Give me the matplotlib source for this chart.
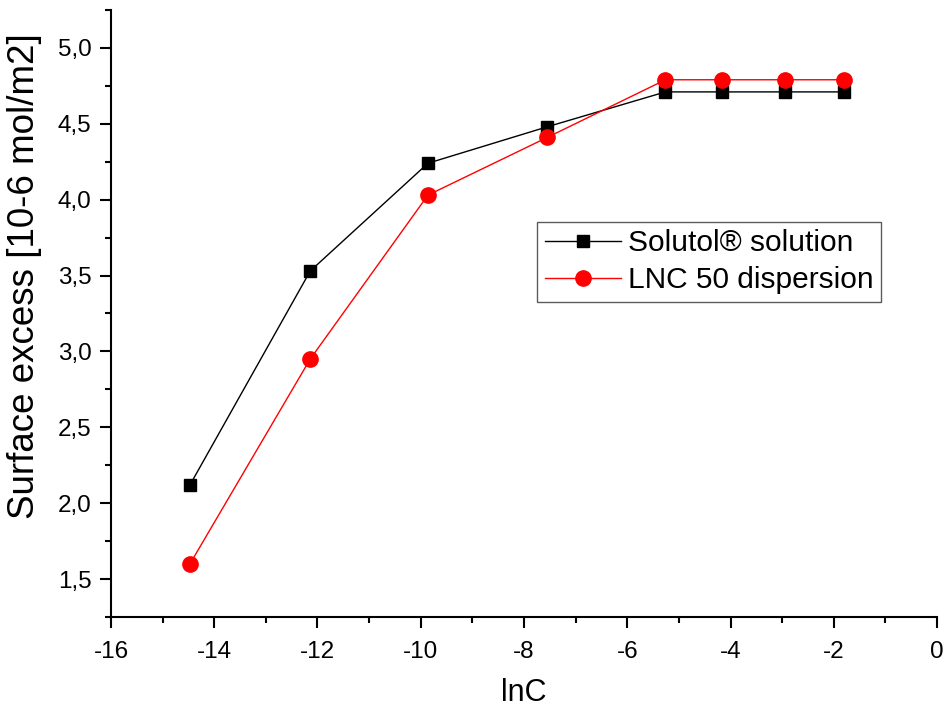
import matplotlib
matplotlib.use('Agg')
import matplotlib.pyplot as plt
from matplotlib.ticker import MultipleLocator, FuncFormatter

plt.rcParams['font.family'] = ['Liberation Sans', 'DejaVu Sans']

# lnC values and surface excess [10-6 mol/m2]
lnc = [-14.47, -12.14, -9.86, -7.55, -5.26, -4.16, -2.94, -1.81]
solutol = [2.12, 3.53, 4.24, 4.48, 4.71, 4.71, 4.71, 4.71]
lnc50 = [1.60, 2.95, 4.03, 4.41, 4.79, 4.79, 4.79, 4.79]

fig = plt.figure(figsize=(9.46, 7.11), dpi=100)
ax = fig.add_axes([0.1173, 0.1322, 0.8732, 0.8538])

ax.plot(lnc, solutol, color='black', lw=1, marker='s', ms=8.5,
        label='Solutol® solution')
ax.plot(lnc, lnc50, color='red', lw=1, marker='o', ms=11,
        label='LNC 50 dispersion')

ax.set_xlim(-16, 0)
ax.set_ylim(1.25, 5.25)
ax.xaxis.set_major_locator(MultipleLocator(2))
ax.xaxis.set_minor_locator(MultipleLocator(1))
ax.yaxis.set_major_locator(MultipleLocator(0.5))
ax.yaxis.set_minor_locator(MultipleLocator(0.25))
ax.yaxis.set_major_formatter(FuncFormatter(lambda v, p: f"{v:.1f}".replace('.', ',')))
ax.xaxis.set_major_formatter(FuncFormatter(lambda v, p: f"{v:.0f}"))

for s in ['top', 'right']:
    ax.spines[s].set_visible(False)
for s in ['left', 'bottom']:
    ax.spines[s].set_linewidth(1.5)

ax.tick_params(which='major', direction='out', length=8, width=1.5, labelsize=17.5)
ax.tick_params(axis='x', which='major', pad=9)
ax.tick_params(axis='y', which='major', pad=6)
ax.tick_params(which='minor', direction='out', length=4.5, width=1.5)

ax.set_xlabel('lnC', fontsize=22, labelpad=11)
ax.set_ylabel('Surface excess [10-6 mol/m2]', fontsize=26.5)
ax.yaxis.set_label_coords(-0.083, 0.562)

leg = ax.legend(loc='upper left', bbox_to_anchor=(0.516, 0.651), borderaxespad=0,
                fontsize=21.5, frameon=True, fancybox=False, edgecolor='#333333',
                handlelength=2.55, borderpad=0.25, labelspacing=0.3, handletextpad=0.25)
leg.get_frame().set_linewidth(1)

fig.savefig('out.png', dpi=100)
